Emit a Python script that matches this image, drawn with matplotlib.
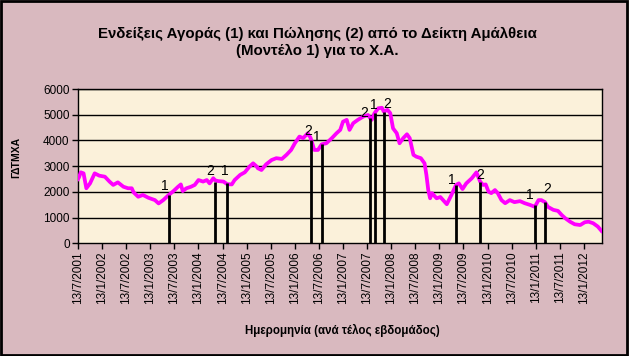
import matplotlib
matplotlib.use("Agg")
import matplotlib.pyplot as plt
from matplotlib.patches import Rectangle

plt.rcParams['font.family'] = ['Liberation Sans', 'DejaVu Sans']

# ---- data (week index since 13/7/2001, index value) ----
weeks = [0, 1, 3, 6, 9, 13, 18, 23, 29, 34, 38, 43, 49, 54, 58, 60, 65, 70, 76, 83,
         87, 92, 97, 103, 108, 111, 113, 117, 122, 126, 130, 135, 139, 142, 146, 148,
         151, 157, 161, 166, 169, 175, 180, 185, 189, 193, 194, 198, 203, 209, 214,
         220, 225, 230, 234, 239, 243, 248, 251, 255, 259, 263, 268, 274, 279, 283,
         286, 290, 293, 297, 302, 308, 313, 315, 317, 320, 324, 328, 330, 334, 337,
         340, 344, 347, 351, 355, 358, 362, 365, 370, 374, 376, 378, 380, 382, 387,
         391, 394, 398, 403, 408, 411, 415, 419, 425, 430, 434, 437, 440, 443, 446,
         450, 453, 457, 461, 466, 471, 477, 482, 488, 493, 497, 500, 504, 507, 513,
         518, 522, 526, 531, 536, 542, 547, 551, 556, 561, 565]
index_vals = [2500, 2560, 2760, 2720, 2140, 2330, 2720, 2630, 2590, 2400, 2270, 2370,
              2200, 2140, 2140, 1980, 1810, 1880, 1770, 1680, 1550, 1680, 1850, 2030,
              2200, 2290, 2030, 2140, 2200, 2270, 2460, 2400, 2460, 2330, 2530, 2450,
              2420, 2400, 2300, 2290, 2460, 2660, 2760, 2980, 3110, 2980, 2920, 2850,
              3070, 3240, 3310, 3280, 3440, 3630, 3890, 4150, 4090, 4280, 4100, 3630,
              3630, 3850, 3890, 4090, 4280, 4410, 4730, 4800, 4410, 4670, 4800, 4930,
              4990, 4880, 4800, 5060, 5250, 5270, 5120, 5190, 5060, 4470, 4280, 3890,
              4090, 4240, 4090, 3440, 3370, 3310, 3110, 2660, 2070, 1750, 1950, 1750,
              1800, 1680, 1520, 1880, 2270, 2330, 2110, 2330, 2530, 2760, 2400, 2270,
              2290, 2010, 1950, 2070, 1950, 1680, 1560, 1680, 1600, 1640, 1560, 1490,
              1420, 1680, 1680, 1600, 1420, 1300, 1260, 1100, 970, 840, 740, 710, 820,
              840, 780, 650, 480]

# buy (1) / sell (2) signals
signal_weeks = [98, 148, 161, 251, 263, 315, 321, 330, 408, 434, 493, 504]
signal_vals = [1880, 2400, 2330, 4020, 3850, 4860, 5060, 5120, 2270, 2400, 1490, 1620]
signal_labels = ['1', '2', '1', '2', '1', '2', '1', '2', '1', '2', '1', '2']

tick_weeks = [0, 26, 52, 78, 104, 130, 156, 182, 208, 234, 260, 286, 312, 338, 364,
              390, 416, 442, 468, 494, 520, 546]
tick_labels = ['13/7/2001', '13/1/2002', '13/7/2002', '13/1/2003', '13/7/2003',
               '13/1/2004', '13/7/2004', '13/1/2005', '13/7/2005', '13/1/2006',
               '13/7/2006', '13/1/2007', '13/7/2007', '13/1/2008', '13/7/2008',
               '13/1/2009', '13/7/2009', '13/1/2010', '13/7/2010', '13/1/2011',
               '13/7/2011', '13/1/2012']

# label offsets in points (style only)
label_offsets = [(-2.6, 6.5), (-3.6, 7.9), (-1.7, 9.1), (-1.9, 6.5), (-3.2, 5.3),
                 (-4.2, 3.6), (-1.1, 6.0), (2.6, 5.5), (-3.2, 3.8), (0, 5.0),
                 (-3.3, 6.9), (1.8, 9.4)]

fig = plt.figure(figsize=(6.29, 3.56), dpi=100)
fig.patch.set_facecolor('#D9B9BF')
fig.patches.append(Rectangle((0.0015, 0.002), 0.995, 0.994, transform=fig.transFigure,
                             fill=False, edgecolor='black', linewidth=2.0))

ax = fig.add_axes([78 / 629, 1 - 243.3 / 356, (602 - 78) / 629, (243.3 - 89) / 356])
ax.set_facecolor('#FBF1DA')

ax.set_ylim(0, 6000)
ax.set_xlim(0, 565.5)
ax.set_yticks(range(0, 6001, 1000))
for yv in range(1000, 6001, 1000):
    ax.axhline(yv, color='black', linewidth=1.0, zorder=1)

ax.plot(weeks, index_vals, color='#FF00FF', linewidth=2.7, zorder=3,
        solid_joinstyle='round')

ax.vlines(signal_weeks, 0, signal_vals, color='black', linewidth=2.0, zorder=4)
for w, v, lab, off in zip(signal_weeks, signal_vals, signal_labels, label_offsets):
    ax.annotate(lab, (w, v), xytext=off, textcoords='offset points',
                ha='center', va='center', fontsize=10, color='black', zorder=5)

ax.set_xticks(tick_weeks)
ax.set_xticklabels(tick_labels, rotation=90, fontsize=8.5)
ax.tick_params(axis='x', direction='out', length=4, width=1, pad=2)
ax.tick_params(axis='y', direction='out', length=4, width=1, pad=2, labelsize=8.5)

for s in ax.spines.values():
    s.set_color('black')
    s.set_linewidth(1.0)

fig.text(0.505, 1 - 42.5 / 356, 'Ενδείξεις Αγοράς (1) και Πώλησης (2) από το Δείκτη Αμάλθεια\n(Μοντέλο 1) για το Χ.Α.',
         ha='center', va='center', fontsize=10.8, fontweight='bold', linespacing=1.3)
fig.text(16 / 629, 1 - 157.5 / 356, 'ΓΔΤΜΧΑ', rotation=90, ha='center', va='center',
         fontsize=7.5, fontweight='bold')
fig.text(342 / 629, 1 - 330 / 356, 'Ημερομηνία (ανά τέλος εβδομάδος)', ha='center',
         va='center', fontsize=8.3, fontweight='bold')

fig.savefig('out.png', dpi=100, facecolor=fig.get_facecolor())
